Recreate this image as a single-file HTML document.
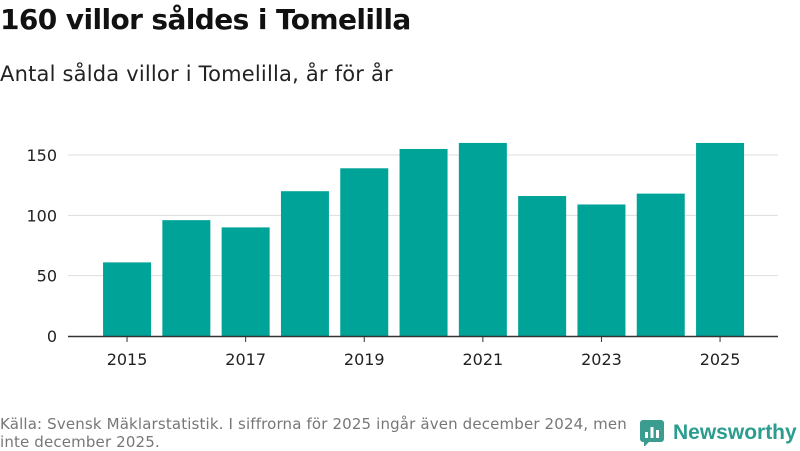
<!DOCTYPE html>
<html><head><meta charset="utf-8"><style>
body{margin:0;width:800px;height:450px;background:#fff;font-family:"Liberation Sans","DejaVu Sans",sans-serif;overflow:hidden;position:relative}
.t{position:absolute;left:0;top:3px;font-size:28px;font-weight:bold;color:#111;font-family:"DejaVu Sans",sans-serif;letter-spacing:-0.6px}
.s{position:absolute;left:0;top:62px;font-size:21px;color:#222;font-family:"DejaVu Sans",sans-serif;letter-spacing:0.2px}
.f{position:absolute;left:0;top:415px;font-size:15px;color:#777;line-height:18px;width:645px;font-family:"DejaVu Sans",sans-serif;letter-spacing:0.15px}
.logo{position:absolute;left:640px;top:420px;display:flex;align-items:center;color:#2a9d8f;font-size:21px;font-weight:bold;font-family:"Liberation Sans",sans-serif}
</style></head><body>
<div class="t">160 villor såldes i Tomelilla</div>
<div class="s">Antal sålda villor i Tomelilla, år för år</div>
<svg id="c" width="800" height="450" style="position:absolute;left:0;top:0"></svg>
<div class="f">Källa: Svensk Mäklarstatistik. I siffrorna för 2025 ingår även december 2024, men inte december 2025.</div>
<div class="logo"><svg width="26" height="26" viewBox="0 0 26 26" style="margin-right:7px"><rect x="0" y="0" width="24" height="22" rx="3" fill="#3a9d8f"/><path d="M4 22 L4 27 L9 22Z" fill="#3a9d8f"/><rect x="5" y="12" width="3" height="6" fill="#fff"/><rect x="10.5" y="7" width="3" height="11" fill="#fff"/><rect x="16" y="10" width="3" height="8" fill="#fff"/></svg>Newsworthy</div>
<script>
const years=[2015,2016,2017,2018,2019,2020,2021,2022,2023,2024,2025];
const values=[61,96,90,120,139,155,160,116,109,118,160];
const yTicks=[0,50,100,150];
const NS="http://www.w3.org/2000/svg";
const svg=document.getElementById('c');
const x0=68,x1=778,y0=336,bandStart=97.4,step=59.3,bw=48;
const ys=v=>y0-v*181/150;
const xs=i=>bandStart+i*step+(step-bw)/2;
function el(t,a){const e=document.createElementNS(NS,t);for(const k in a)e.setAttribute(k,a[k]);svg.appendChild(e);return e;}
yTicks.forEach(v=>{
 if(v>0){const g=el('line',{x1:x0,x2:x1,y1:ys(v),y2:ys(v),stroke:'#ddd','stroke-width':1});
 
 }
 const t=el('text',{x:57,y:ys(v)+6,'text-anchor':'end','font-size':16,fill:'#222','font-family':'DejaVu Sans, sans-serif'});
 t.textContent=v;
 
 
});
years.forEach((yr,i)=>{
 const r=el('rect',{x:xs(i),y:ys(values[i]),width:bw,height:y0-ys(values[i]),fill:'#00a398'});
 
 
 if(yr%2===1){
  const cx=xs(i)+bw/2;
  el('line',{x1:cx,x2:cx,y1:y0,y2:y0+6,stroke:'#333'});
  const t=el('text',{x:cx,y:y0+29,'text-anchor':'middle','font-size':16,fill:'#222','font-family':'DejaVu Sans, sans-serif'});
  t.textContent=yr;
  
  
 }
});
const ax=el('line',{x1:x0,x2:x1,y1:y0+0.5,y2:y0+0.5,stroke:'#333','stroke-width':1.5});


</script>
</body></html>
